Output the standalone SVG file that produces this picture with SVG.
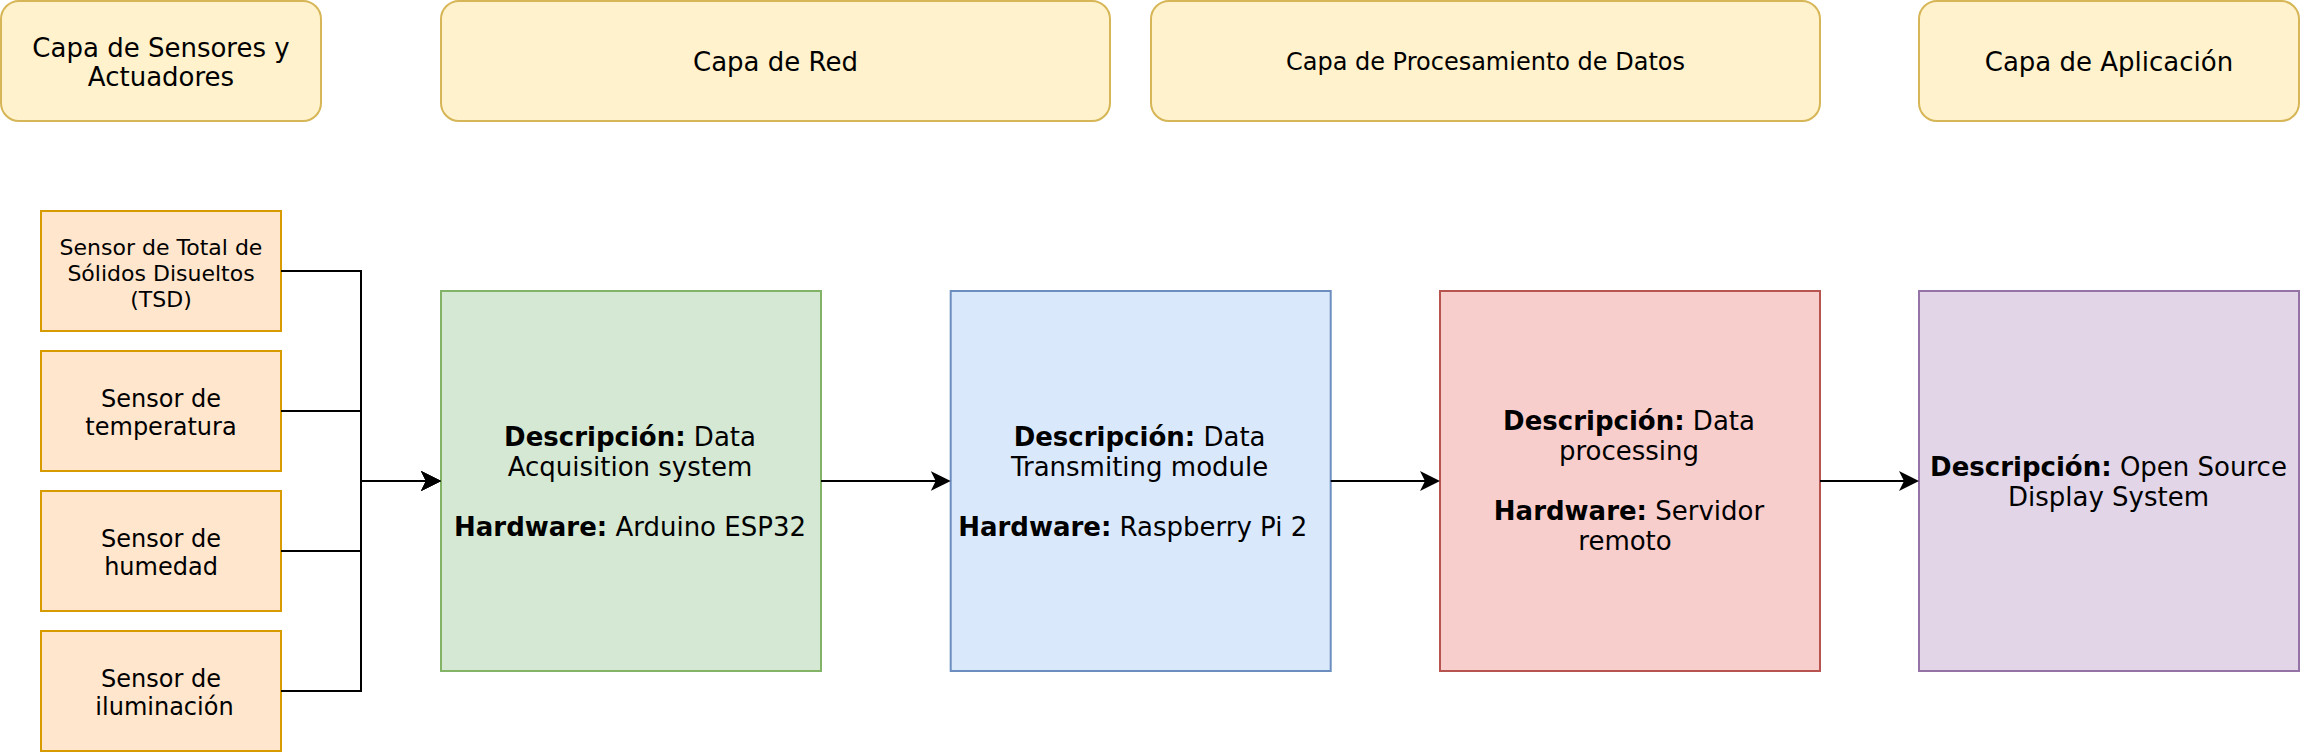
<svg xmlns="http://www.w3.org/2000/svg" width="2302" height="754" viewBox="0 0 2302 754">
  <style>
    text { font-family: "DejaVu Sans", "Liberation Sans", sans-serif; fill: #000000; text-anchor: middle; }
    .hdr { fill: #fff2cc; stroke: #d6b656; stroke-width: 2; }
    .sen { fill: #ffe6cc; stroke: #d79b00; stroke-width: 2; }
    .grn { fill: #d5e8d4; stroke: #82b366; stroke-width: 2; }
    .blu { fill: #dae8fc; stroke: #6c8ebf; stroke-width: 2; }
    .red { fill: #f8cecc; stroke: #b85450; stroke-width: 2; }
    .pur { fill: #e1d5e7; stroke: #9673a6; stroke-width: 2; }
    .f26 { font-size: 26px; }
    .f24 { font-size: 24px; }
    .f22 { font-size: 22px; }
    .b { font-weight: bold; }
    .edge { fill: none; stroke: #000000; stroke-width: 2; marker-end: url(#arrow); }
  </style>
  <defs>
    <marker id="arrow" markerUnits="userSpaceOnUse" viewBox="0 0 20 20" refX="10" refY="10" markerWidth="20" markerHeight="20" orient="auto">
      <path d="M20,10 L0,0 L5,10 L0,20 Z" fill="#000000"/>
    </marker>
  </defs>

  <g id="hdr-sensores">
    <rect class="hdr" x="1" y="1" width="320" height="120" rx="18" ry="18"/>
    <text class="f26" x="161" y="56.7">Capa de Sensores y</text>
    <text class="f26" x="161" y="86">Actuadores</text>
  </g>
  <g id="hdr-red">
    <rect class="hdr" x="441" y="1" width="669" height="120" rx="18" ry="18"/>
    <text class="f26" x="775.5" y="70.7">Capa de Red</text>
  </g>
  <g id="hdr-procesamiento">
    <rect class="hdr" x="1151" y="1" width="669" height="120" rx="18" ry="18"/>
    <text class="f24" x="1485.5" y="70">Capa de Procesamiento de Datos</text>
  </g>
  <g id="hdr-aplicacion">
    <rect class="hdr" x="1919" y="1" width="380" height="120" rx="18" ry="18"/>
    <text class="f26" x="2109" y="70.7">Capa de Aplicación</text>
  </g>

  <g id="sensor-tsd">
    <rect class="sen" x="41" y="211" width="240" height="120"/>
    <text class="f22" x="161" y="255">Sensor de Total de</text>
    <text class="f22" x="161" y="281">Sólidos Disueltos</text>
    <text class="f22" x="161" y="307">(TSD)</text>
  </g>
  <g id="sensor-temperatura">
    <rect class="sen" x="41" y="351" width="240" height="120"/>
    <text class="f24" x="161" y="406.5">Sensor de</text>
    <text class="f24" x="161" y="434.5">temperatura</text>
  </g>
  <g id="sensor-humedad">
    <rect class="sen" x="41" y="491" width="240" height="120"/>
    <text class="f24" x="161" y="546.5">Sensor de</text>
    <text class="f24" x="161" y="574.5">humedad</text>
  </g>
  <g id="sensor-iluminacion">
    <rect class="sen" x="41" y="631" width="240" height="120"/>
    <text class="f24" x="161" y="686.5">Sensor de</text>
    <text class="f24" x="164.5" y="714.5">iluminación</text>
  </g>

  <g id="acquisition">
    <rect class="grn" x="441" y="291" width="380" height="380"/>
    <text class="f26" x="630" y="445.5"><tspan class="b">Descripción:</tspan> Data</text>
    <text class="f26" x="630" y="475.5">Acquisition system</text>
    <text class="f26" x="630" y="536"><tspan class="b">Hardware:</tspan> Arduino ESP32</text>
  </g>
  <g id="transmiting">
    <rect class="blu" x="950.7" y="291" width="380" height="380"/>
    <text class="f26" x="1139.6" y="445.5"><tspan class="b">Descripción:</tspan> Data</text>
    <text class="f26" x="1139.6" y="475.5">Transmiting module</text>
    <text class="f26" x="1132.7" y="536"><tspan class="b">Hardware:</tspan> Raspberry Pi 2</text>
  </g>
  <g id="processing">
    <rect class="red" x="1440" y="291" width="380" height="380"/>
    <text class="f26" x="1629" y="429.5"><tspan class="b">Descripción:</tspan> Data</text>
    <text class="f26" x="1629" y="459.5">processing</text>
    <text class="f26" x="1629" y="520"><tspan class="b">Hardware:</tspan> Servidor</text>
    <text class="f26" x="1625" y="550">remoto</text>
  </g>
  <g id="display">
    <rect class="pur" x="1919" y="291" width="380" height="380"/>
    <text class="f26" x="2108.5" y="475.5"><tspan class="b">Descripción:</tspan> Open Source</text>
    <text class="f26" x="2108.5" y="505.5">Display System</text>
  </g>

  <g id="connectors">
    <path class="edge" d="M281,271 H361 V481 H431"/>
    <path class="edge" d="M281,411 H361 V481 H431"/>
    <path class="edge" d="M281,551 H361 V481 H431"/>
    <path class="edge" d="M281,691 H361 V481 H431"/>
    <path class="edge" d="M821,481 H940.7"/>
    <path class="edge" d="M1330.7,481 H1430"/>
    <path class="edge" d="M1820,481 H1909"/>
  </g>
</svg>
